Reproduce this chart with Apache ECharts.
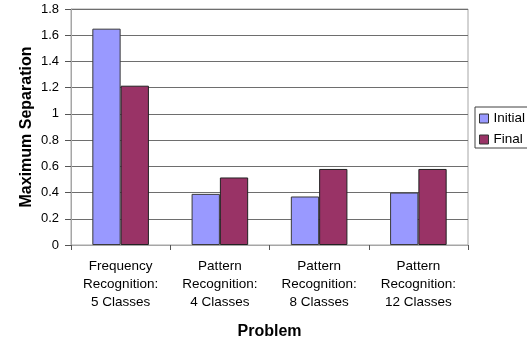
<!DOCTYPE html>
<html>
<head>
<meta charset="utf-8">
<script src="https://cdn.jsdelivr.net/npm/echarts@6/dist/echarts.min.js"></script>
<style>
  html, body { margin: 0; padding: 0; background: #fff; }
  #chart { width: 527px; height: 345px; }
</style>
</head>
<body>
<div id="chart"></div>
<script>
// Problem categories (multi-line labels)
var categories = [
  'Frequency\nRecognition:\n5 Classes',
  'Pattern\nRecognition:\n4 Classes',
  'Pattern\nRecognition:\n8 Classes',
  'Pattern\nRecognition:\n12 Classes'
];
// Maximum separation per problem
var initialValues = [1.65, 0.39, 0.37, 0.40];
var finalValues = [1.215, 0.515, 0.58, 0.58];
var seriesNames = ['Initial', 'Final'];

var FONT = '"Liberation Sans", Arial, sans-serif';

var chart = echarts.init(document.getElementById('chart'), null, { renderer: 'canvas' });

chart.setOption({
  animation: false,
  backgroundColor: '#ffffff',
  textStyle: { fontFamily: FONT, color: '#000' },
  grid: {
    left: 71, right: 59, top: 9, bottom: 100,
    show: true, borderColor: '#a6a6a6', borderWidth: 1, backgroundColor: '#ffffff'
  },
  legend: {
    data: seriesNames,
    orient: 'vertical',
    left: 475, top: 107,
    padding: [4, 16, 1, 4],
    itemGap: 6,
    itemWidth: 9, itemHeight: 9,
    icon: 'rect',
    borderColor: '#404040', borderWidth: 1,
    backgroundColor: '#ffffff',
    textStyle: { fontFamily: FONT, fontSize: 13.5, color: '#000', lineHeight: 15 },
    itemStyle: { borderColor: '#333', borderWidth: 1 }
  },
  xAxis: {
    type: 'category',
    data: categories,
    name: 'Problem',
    nameLocation: 'middle',
    nameGap: 79,
    nameMoveOverlap: false,
    nameTextStyle: { fontFamily: FONT, fontSize: 16, fontWeight: 'bold', color: '#000' },
    axisLine: { lineStyle: { color: '#a6a6a6', width: 1 } },
    axisTick: { show: true, alignWithLabel: false, length: 5, lineStyle: { color: '#555' } },
    axisLabel: {
      interval: 0, margin: 12, fontFamily: FONT, fontSize: 13.5, color: '#000',
      lineHeight: 18, align: 'center'
    },
    splitLine: { show: false }
  },
  yAxis: {
    type: 'value',
    min: 0, max: 1.8, interval: 0.2,
    name: 'Maximum Separation',
    nameLocation: 'middle',
    nameGap: 36,
    nameMoveOverlap: false,
    nameTextStyle: { fontFamily: FONT, fontSize: 16, fontWeight: 'bold', color: '#000' },
    axisLine: { show: true, lineStyle: { color: '#a6a6a6', width: 1 } },
    axisTick: { show: true, length: 6, lineStyle: { color: '#555' } },
    axisLabel: { margin: 12, fontFamily: FONT, fontSize: 13, color: '#000' },
    splitLine: { show: true, lineStyle: { color: '#6e6e6e', width: 1 } }
  },
  series: [
    {
      name: seriesNames[0], type: 'bar', data: initialValues,
      barGap: '0%', barCategoryGap: '43%',
      itemStyle: { color: '#9999ff', borderColor: '#3a3a3a', borderWidth: 1 }
    },
    {
      name: seriesNames[1], type: 'bar', data: finalValues,
      barGap: '0%', barCategoryGap: '43%',
      itemStyle: { color: '#993366', borderColor: '#222', borderWidth: 1 }
    }
  ]
});
</script>
</body>
</html>
